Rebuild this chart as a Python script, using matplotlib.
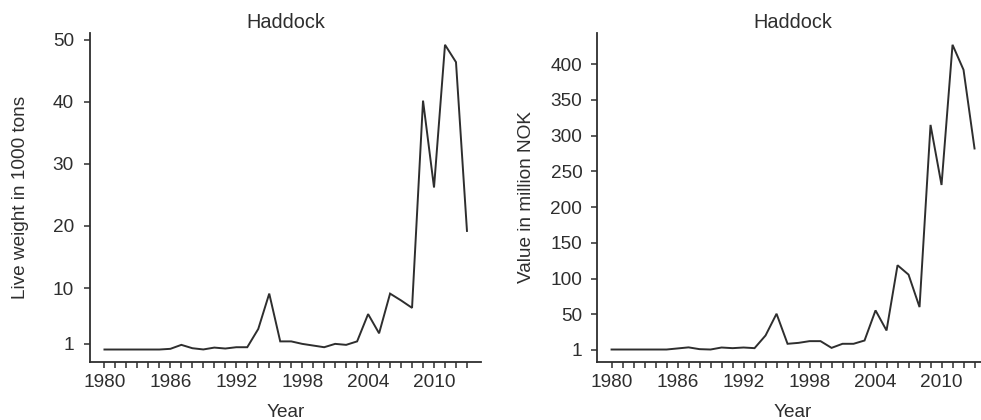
import matplotlib
matplotlib.use("Agg")
import matplotlib.pyplot as plt
import numpy as np

plt.rcParams['font.family'] = ['Liberation Sans', 'DejaVu Sans']

years = list(range(1980, 2014))

# Haddock landings, live weight (1000 tons)
live_weight = [0.09, 0.09, 0.09, 0.09, 0.09, 0.09, 0.2, 0.84, 0.3, 0.1,
               0.4, 0.25, 0.46, 0.46, 3.4, 9.1, 1.4, 1.4, 1.0, 0.73,
               0.46, 1.0, 0.84, 1.4, 5.8, 2.7, 9.1, 8.0, 6.8, 40.2,
               26.2, 49.2, 46.4, 19.2]

# Haddock landings, first-hand value (million NOK)
value_nok = [1.0, 1.0, 1.0, 1.0, 1.0, 1.0, 2.5, 4.0, 1.5, 1.0,
             3.8, 2.9, 3.8, 2.9, 20.6, 51.0, 9.0, 10.3, 12.7, 12.7,
             3.3, 9.0, 9.0, 13.6, 55.7, 27.6, 118.8, 105.7, 60.3, 315.0,
             231.0, 427.0, 392.0, 282.0]

weight_ticks = [1, 10, 20, 30, 40, 50]
value_ticks = [1, 50, 100, 150, 200, 250, 300, 350, 400]
year_labels = [1980, 1986, 1992, 1998, 2004, 2010]

title = "Haddock"
xlabel = "Year"
ylabels = ["Live weight in 1000 tons", "Value in million NOK"]

ink = "#2e2e2e"
fs = 13.7

fig = plt.figure(figsize=(9.81, 4.2), dpi=100)
ax_left = fig.add_axes([0.0917, 0.1388, 0.3991, 0.7836])
ax_right = fig.add_axes([0.6086, 0.1388, 0.3996, 0.7836])


def extended(lo, hi, frac=0.04):
    span = hi - lo
    return lo - frac * span, hi + frac * span


def draw(ax, series, yticks, ylabel, ylabel_x, ytick_pad):
    ax.plot(years, series, color=ink, lw=1.4, solid_joinstyle='miter')
    ax.set_xlim(*extended(min(years), max(years)))
    ax.set_ylim(*extended(min(series), max(series)))

    ax.set_xticks(years)
    ax.set_xticklabels([str(y) if y in year_labels else "" for y in years])
    ax.set_yticks(yticks)
    ax.set_yticklabels([str(t) for t in yticks])

    for side in ("top", "right"):
        ax.spines[side].set_visible(False)
    for side in ("left", "bottom"):
        ax.spines[side].set_color(ink)
        ax.spines[side].set_linewidth(1.3)

    ax.tick_params(axis='both', direction='out', length=4.6, width=1.1,
                   color=ink, labelcolor=ink, labelsize=fs)
    ax.tick_params(axis='y', pad=ytick_pad)
    ax.tick_params(axis='x', pad=4.5)

    ax.set_title(title, fontsize=fs + 0.6, color=ink, pad=3)
    ax.set_xlabel(xlabel, fontsize=fs, color=ink)
    ax.xaxis.set_label_coords(0.5, -0.128)
    ax.set_ylabel(ylabel, fontsize=fs, color=ink)
    ax.yaxis.set_label_coords(ylabel_x, 0.5)


draw(ax_left, live_weight, weight_ticks, ylabels[0], -0.155, 7)
draw(ax_right, value_nok, value_ticks, ylabels[1], -0.158, 6)

fig.savefig("out.png", dpi=100)
